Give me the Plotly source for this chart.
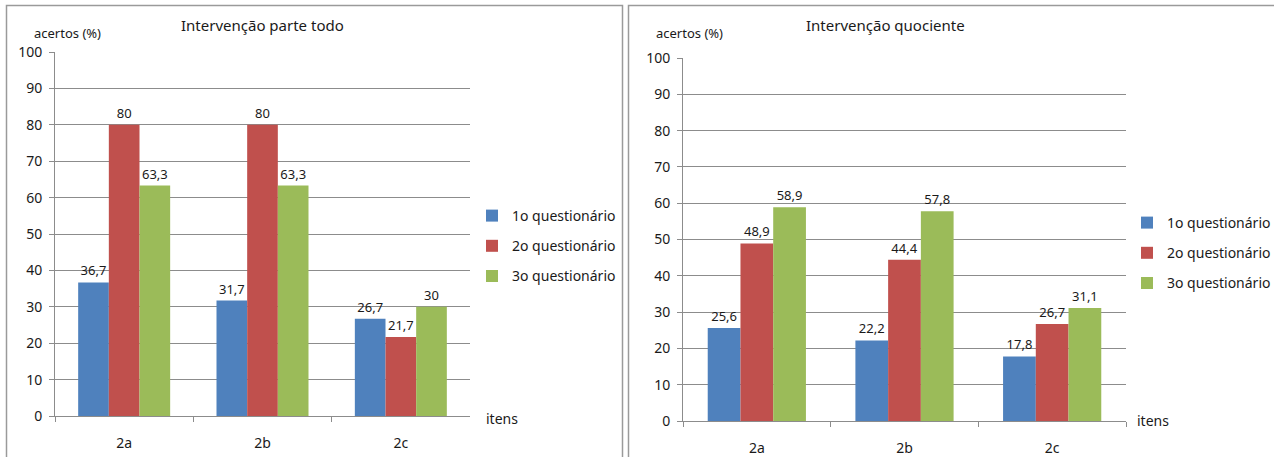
import plotly.graph_objects as go

categories = ["2a", "2b", "2c"]
series_names = ["1o questionário", "2o questionário", "3o questionário"]
colors = ["#4F81BD", "#C0504D", "#9BBB59"]

left_title = "Intervenção parte todo"
left_1 = [36.7, 31.7, 26.7]
left_2 = [80, 80, 21.7]
left_3 = [63.3, 63.3, 30]

right_title = "Intervenção quociente"
right_1 = [25.6, 22.2, 17.8]
right_2 = [48.9, 44.4, 26.7]
right_3 = [58.9, 57.8, 31.1]

y_ticks = [0, 10, 20, 30, 40, 50, 60, 70, 80, 90, 100]

W, H = 1274, 457
FONT = "Noto Sans"
TXT = "#1a1a1a"
GRID = "#8c8c8c"


def fmt(v):
    return f"{v:g}".replace(".", ",")


fig = go.Figure()
panels = [
    (left_1, left_2, left_3, "x", "y", "legend", "L"),
    (right_1, right_2, right_3, "x2", "y2", "legend2", "R"),
]
for (s1, s2, s3, xa, ya, lg, pre) in panels:
    for i, (name, vals, col) in enumerate(zip(series_names, [s1, s2, s3], colors)):
        fig.add_trace(go.Bar(
            x=categories, y=vals, name=name, marker=dict(color=col, line=dict(width=0)),
            text=[fmt(v) for v in vals], textposition="outside",
            textfont=dict(family=FONT, size=13, color=TXT),
            cliponaxis=False, xaxis=xa, yaxis=ya, legend=lg,
            legendgroup=f"{pre}{i}",
        ))


def px(x):
    return x / W


def py(y):
    return 1 - y / H


axis_common = dict(
    showline=True, linecolor=GRID, linewidth=1, automargin=False,
    tickfont=dict(family=FONT, size=14, color=TXT),
)

legend_common = dict(
    xanchor="left", yanchor="top",
    font=dict(family=FONT, size=14, color=TXT), bgcolor="rgba(0,0,0,0)",
    traceorder="grouped", tracegroupgap=9, itemwidth=30,
)

fig.update_layout(
    template="none",
    width=W, height=H, margin=dict(l=0, r=0, t=0, b=0, autoexpand=False),
    paper_bgcolor="white", plot_bgcolor="white",
    barmode="group", bargap=0.335, bargroupgap=0,
    showlegend=True,
    xaxis=dict(domain=[px(55), px(470)], anchor="y", type="category",
               ticks="outside", ticklen=5, tickcolor=GRID, tickson="boundaries",
               ticklabelstandoff=14, showgrid=False, **axis_common),
    yaxis=dict(domain=[py(416), py(52)], anchor="x", range=[0, 100],
               tickvals=y_ticks, ticks="outside", ticklen=5, tickcolor=GRID,
               showgrid=True, gridcolor=GRID, gridwidth=1, zeroline=False,
               ticklabelstandoff=4, **axis_common),
    xaxis2=dict(domain=[px(683), px(1126)], anchor="y2", type="category",
                ticks="outside", ticklen=5, tickcolor=GRID, tickson="boundaries",
                ticklabelstandoff=14, showgrid=False, **axis_common),
    yaxis2=dict(domain=[py(421), py(58)], anchor="x2", range=[0, 100],
                tickvals=y_ticks, ticks="outside", ticklen=5, tickcolor=GRID,
                showgrid=True, gridcolor=GRID, gridwidth=1, zeroline=False,
                ticklabelstandoff=4, **axis_common),
    legend=dict(x=px(472), y=py(200), **legend_common),
    legend2=dict(x=px(1127), y=py(207), **legend_common),
    annotations=[
        dict(text=left_title, x=px(262), y=py(25), xref="paper", yref="paper",
             xanchor="center", yanchor="middle",
             showarrow=False, font=dict(family=FONT, size=15, color=TXT)),
        dict(text=right_title, x=px(885), y=py(25), xref="paper", yref="paper",
             xanchor="center", yanchor="middle",
             showarrow=False, font=dict(family=FONT, size=15, color=TXT)),
        dict(text="acertos (%)", x=px(32), y=py(33), xref="paper", yref="paper",
             xanchor="left", yanchor="middle",
             showarrow=False, font=dict(family=FONT, size=13, color=TXT)),
        dict(text="acertos (%)", x=px(654), y=py(33), xref="paper", yref="paper",
             xanchor="left", yanchor="middle",
             showarrow=False, font=dict(family=FONT, size=13, color=TXT)),
        dict(text="itens", x=px(484), y=py(418), xref="paper", yref="paper",
             xanchor="left", yanchor="middle",
             showarrow=False, font=dict(family=FONT, size=14, color=TXT)),
        dict(text="itens", x=px(1135), y=py(420), xref="paper", yref="paper",
             xanchor="left", yanchor="middle",
             showarrow=False, font=dict(family=FONT, size=14, color=TXT)),
    ],
    shapes=[
        dict(type="rect", xref="paper", yref="paper", x0=px(6.5), x1=px(622.5),
             y0=-0.05, y1=py(5.5), line=dict(color="#9a9a9a", width=1.5)),
        dict(type="rect", xref="paper", yref="paper", x0=px(628.5), x1=1.05,
             y0=-0.05, y1=py(5.5), line=dict(color="#9a9a9a", width=1.5)),
    ],
)

fig.write_html("out.html")
